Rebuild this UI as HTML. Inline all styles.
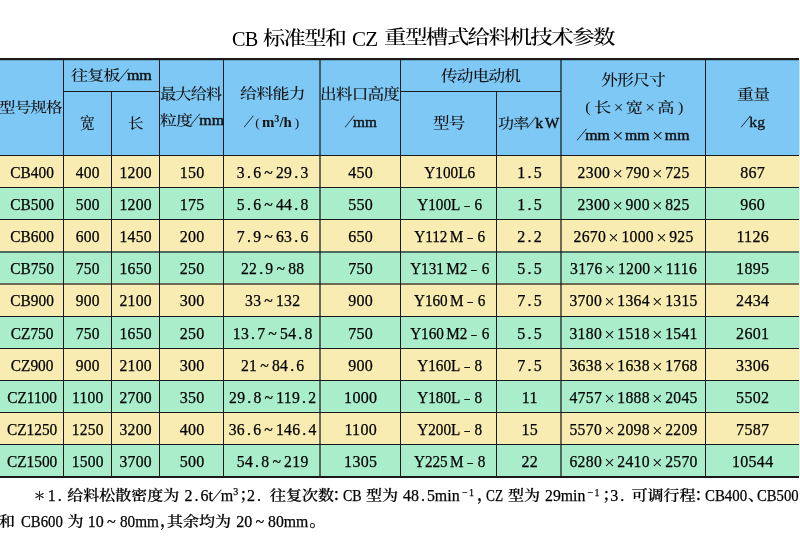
<!DOCTYPE html>
<html lang="zh"><head><meta charset="utf-8"><title>CB 标准型和 CZ 重型槽式给料机技术参数</title>
<style>
*{margin:0;padding:0;box-sizing:border-box}
html,body{width:800px;height:546px;background:#fff;overflow:hidden}
body{position:relative;font-family:"Liberation Serif","Noto Serif CJK SC",serif;color:#111}
.bg,.ln,.td,.th,.seg{position:absolute}
.ln{background:#1a1a1a}
.td{height:32px;line-height:18px;padding-top:9px;text-align:center;font-size:16px;white-space:nowrap;letter-spacing:0.3px;color:#000;-webkit-text-stroke:.25px #000}
.c0{letter-spacing:0}
.th{line-height:20px;font-size:16px;font-weight:500;white-space:nowrap;transform-origin:0 0;letter-spacing:-.8px}
.th b{font-size:15px;font-weight:400;letter-spacing:0;-webkit-text-stroke:.45px #111}
.th b.B{font-size:14.5px;font-weight:700;-webkit-text-stroke:0}
.th .xs{font-size:16px;top:1.5px;margin:0 3px}
.th b.n{font-weight:400;font-size:15px;-webkit-text-stroke:.3px #111}
.pp{font-size:13px;font-weight:400;margin:0 3px}
.pq{font-size:15px;font-weight:400;margin:0 4px}
.th .kw{letter-spacing:2px}
.th sup{font-size:10px;vertical-align:5px;line-height:0}
.dp{margin:0 2px}
.tl{margin:0 3px}
.ds{display:inline-block;transform:scaleX(.7);margin:0 4px 0 3px}
.mm{margin-left:2.5px}
.x{margin:0 2.3px;font-size:19px;line-height:0;position:relative;top:1.8px;font-weight:400;-webkit-text-stroke:0}
.sl{display:inline-block;transform:skewX(-24deg);margin:0 2px 0 1px;font-size:17px}
.pl,.pr{font-feature-settings:"palt"}
.seg{white-space:nowrap}
.tt{font-size:21px;line-height:28px;font-weight:400;color:#000}
.tc{font-weight:500}
.tc{letter-spacing:-1.5px}
.fk{display:inline-block;transform:scaleY(.86);transform-origin:50% 15px}
.k{display:inline-block;transform:scaleY(.88);transform-origin:50% 15px}
.fn{font-size:16px;line-height:20px;font-weight:500;color:#000;-webkit-text-stroke:.25px #000}
.fn sup{font-size:10px;vertical-align:6px;line-height:0}
.fa{font-size:11.5px}
.sp{font-size:10px;position:relative;top:-5.5px}
</style></head><body>
<div class="bg" style="left:0;top:60px;width:800px;height:95px;background:#7ec8f6"></div><div class="bg" style="left:0;top:155px;width:800px;height:32px;background:#f8ecb2"></div><div class="bg" style="left:0;top:187px;width:800px;height:32px;background:#a9edcb"></div><div class="bg" style="left:0;top:219px;width:800px;height:32px;background:#f8ecb2"></div><div class="bg" style="left:0;top:251px;width:800px;height:32px;background:#a9edcb"></div><div class="bg" style="left:0;top:283px;width:800px;height:33px;background:#f8ecb2"></div><div class="bg" style="left:0;top:316px;width:800px;height:32px;background:#a9edcb"></div><div class="bg" style="left:0;top:348px;width:800px;height:32px;background:#f8ecb2"></div><div class="bg" style="left:0;top:380px;width:800px;height:32px;background:#a9edcb"></div><div class="bg" style="left:0;top:412px;width:800px;height:32px;background:#f8ecb2"></div><div class="bg" style="left:0;top:444px;width:800px;height:32px;background:#a9edcb"></div><div class="ln" style="left:0;top:58px;width:799px;height:2px"></div><div class="ln" style="left:0;top:476px;width:799px;height:2px"></div><div class="ln" style="left:0;top:155px;width:799px;height:1px;background:#1a1a1a"></div><div class="ln" style="left:0;top:187px;width:799px;height:1px;background:#1a1a1a"></div><div class="ln" style="left:0;top:219px;width:799px;height:1px;background:#1a1a1a"></div><div class="ln" style="left:0;top:251px;width:799px;height:2px;background:rgba(20,20,20,0.6)"></div><div class="ln" style="left:0;top:283px;width:799px;height:2px;background:rgba(20,20,20,0.6)"></div><div class="ln" style="left:0;top:316px;width:799px;height:1px;background:#1a1a1a"></div><div class="ln" style="left:0;top:348px;width:799px;height:1px;background:#1a1a1a"></div><div class="ln" style="left:0;top:380px;width:799px;height:1px;background:#1a1a1a"></div><div class="ln" style="left:0;top:412px;width:799px;height:1px;background:#1a1a1a"></div><div class="ln" style="left:0;top:444px;width:799px;height:1px;background:#1a1a1a"></div><div class="ln" style="left:0;top:60px;width:799px;height:1px;background:rgba(0,0,0,.18)"></div><div class="ln" style="left:63px;top:91px;width:97px;height:1px"></div><div class="ln" style="left:400px;top:91px;width:161px;height:1px"></div><div class="bg" style="left:799px;top:58px;width:1px;height:420px;background:rgba(255,255,255,.55)"></div><div class="ln" style="left:63px;top:60px;width:1px;height:416px;background:#1a1a1a"></div><div class="ln" style="left:111px;top:92px;width:1px;height:384px;background:#1a1a1a"></div><div class="ln" style="left:159px;top:60px;width:1px;height:416px;background:#1a1a1a"></div><div class="ln" style="left:223px;top:60px;width:1px;height:416px;background:#1a1a1a"></div><div class="ln" style="left:319px;top:60px;width:2px;height:416px;background:rgba(20,20,20,0.6)"></div><div class="ln" style="left:400px;top:60px;width:1px;height:416px;background:#1a1a1a"></div><div class="ln" style="left:496px;top:92px;width:1px;height:384px;background:#1a1a1a"></div><div class="ln" style="left:560px;top:60px;width:2px;height:416px;background:rgba(20,20,20,0.6)"></div><div class="ln" style="left:705px;top:60px;width:1px;height:416px;background:#1a1a1a"></div><div class="td c0" style="left:0px;top:155px;width:63px;transform:translateX(0.6px) scaleX(0.96)">CB400</div><div class="td" style="left:63px;top:155px;width:48px;transform:translateX(0.8px) scaleX(0.97)">400</div><div class="td" style="left:111px;top:155px;width:48px;transform:translateX(0.7px) scaleX(0.98)">1200</div><div class="td" style="left:159px;top:155px;width:65px;transform:translateX(0.6px) scaleX(1)">150</div><div class="td" style="left:224px;top:155px;width:96px;transform:translateX(0.7px) scaleX(0.98)">3<span class="dp">.</span>6<span class="tl">~</span>29<span class="dp">.</span>3</div><div class="td" style="left:320px;top:155px;width:80px;transform:translateX(0.7px) scaleX(1)">450</div><div class="td c0" style="left:400px;top:155px;width:97px;transform:translateX(1.2px) scaleX(0.95)">Y100L6</div><div class="td" style="left:497px;top:155px;width:64px;transform:translateX(0.7px) scaleX(1)">1<span class="dp">.</span>5</div><div class="td" style="left:561px;top:155px;width:144px;transform:translateX(0.6px) scaleX(0.98)">2300<span class="x">×</span>790<span class="x">×</span>725</div><div class="td" style="left:705px;top:155px;width:94px;transform:translateX(0.7px) scaleX(1)">867</div><div class="td c0" style="left:0px;top:187px;width:63px;transform:translateX(0.6px) scaleX(0.96)">CB500</div><div class="td" style="left:63px;top:187px;width:48px;transform:translateX(0.8px) scaleX(0.97)">500</div><div class="td" style="left:111px;top:187px;width:48px;transform:translateX(0.7px) scaleX(0.98)">1200</div><div class="td" style="left:159px;top:187px;width:65px;transform:translateX(0.6px) scaleX(1)">175</div><div class="td" style="left:224px;top:187px;width:96px;transform:translateX(0.7px) scaleX(0.98)">5<span class="dp">.</span>6<span class="tl">~</span>44<span class="dp">.</span>8</div><div class="td" style="left:320px;top:187px;width:80px;transform:translateX(0.7px) scaleX(1)">550</div><div class="td c0" style="left:400px;top:187px;width:97px;transform:translateX(1.2px) scaleX(0.95)">Y100L<span class="ds">&#8211;</span>6</div><div class="td" style="left:497px;top:187px;width:64px;transform:translateX(0.7px) scaleX(1)">1<span class="dp">.</span>5</div><div class="td" style="left:561px;top:187px;width:144px;transform:translateX(0.6px) scaleX(0.98)">2300<span class="x">×</span>900<span class="x">×</span>825</div><div class="td" style="left:705px;top:187px;width:94px;transform:translateX(0.7px) scaleX(1)">960</div><div class="td c0" style="left:0px;top:219px;width:63px;transform:translateX(0.6px) scaleX(0.96)">CB600</div><div class="td" style="left:63px;top:219px;width:48px;transform:translateX(0.8px) scaleX(0.97)">600</div><div class="td" style="left:111px;top:219px;width:48px;transform:translateX(0.7px) scaleX(0.98)">1450</div><div class="td" style="left:159px;top:219px;width:65px;transform:translateX(0.6px) scaleX(1)">200</div><div class="td" style="left:224px;top:219px;width:96px;transform:translateX(0.7px) scaleX(0.98)">7<span class="dp">.</span>9<span class="tl">~</span>63<span class="dp">.</span>6</div><div class="td" style="left:320px;top:219px;width:80px;transform:translateX(0.7px) scaleX(1)">650</div><div class="td c0" style="left:400px;top:219px;width:97px;transform:translateX(1.2px) scaleX(0.95)">Y112<span class="mm">M</span><span class="ds">&#8211;</span>6</div><div class="td" style="left:497px;top:219px;width:64px;transform:translateX(0.7px) scaleX(1)">2<span class="dp">.</span>2</div><div class="td" style="left:561px;top:219px;width:144px;transform:translateX(0.6px) scaleX(0.98)">2670<span class="x">×</span>1000<span class="x">×</span>925</div><div class="td" style="left:705px;top:219px;width:94px;transform:translateX(0.7px) scaleX(1)">1126</div><div class="td c0" style="left:0px;top:251px;width:63px;transform:translateX(0.6px) scaleX(0.96)">CB750</div><div class="td" style="left:63px;top:251px;width:48px;transform:translateX(0.8px) scaleX(0.97)">750</div><div class="td" style="left:111px;top:251px;width:48px;transform:translateX(0.7px) scaleX(0.98)">1650</div><div class="td" style="left:159px;top:251px;width:65px;transform:translateX(0.6px) scaleX(1)">250</div><div class="td" style="left:224px;top:251px;width:96px;transform:translateX(0.7px) scaleX(0.98)">22<span class="dp">.</span>9<span class="tl">~</span>88</div><div class="td" style="left:320px;top:251px;width:80px;transform:translateX(0.7px) scaleX(1)">750</div><div class="td c0" style="left:400px;top:251px;width:97px;transform:translateX(1.2px) scaleX(0.95)">Y131<span class="mm">M</span>2<span class="ds">&#8211;</span>6</div><div class="td" style="left:497px;top:251px;width:64px;transform:translateX(0.7px) scaleX(1)">5<span class="dp">.</span>5</div><div class="td" style="left:561px;top:251px;width:144px;transform:translateX(0.6px) scaleX(0.98)">3176<span class="x">×</span>1200<span class="x">×</span>1116</div><div class="td" style="left:705px;top:251px;width:94px;transform:translateX(0.7px) scaleX(1)">1895</div><div class="td c0" style="left:0px;top:283px;width:63px;transform:translateX(0.6px) scaleX(0.96)">CB900</div><div class="td" style="left:63px;top:283px;width:48px;transform:translateX(0.8px) scaleX(0.97)">900</div><div class="td" style="left:111px;top:283px;width:48px;transform:translateX(0.7px) scaleX(0.98)">2100</div><div class="td" style="left:159px;top:283px;width:65px;transform:translateX(0.6px) scaleX(1)">300</div><div class="td" style="left:224px;top:283px;width:96px;transform:translateX(0.7px) scaleX(0.98)">33<span class="tl">~</span>132</div><div class="td" style="left:320px;top:283px;width:80px;transform:translateX(0.7px) scaleX(1)">900</div><div class="td c0" style="left:400px;top:283px;width:97px;transform:translateX(1.2px) scaleX(0.95)">Y160<span class="mm">M</span><span class="ds">&#8211;</span>6</div><div class="td" style="left:497px;top:283px;width:64px;transform:translateX(0.7px) scaleX(1)">7<span class="dp">.</span>5</div><div class="td" style="left:561px;top:283px;width:144px;transform:translateX(0.6px) scaleX(0.98)">3700<span class="x">×</span>1364<span class="x">×</span>1315</div><div class="td" style="left:705px;top:283px;width:94px;transform:translateX(0.7px) scaleX(1)">2434</div><div class="td c0" style="left:0px;top:316px;width:63px;transform:translateX(0.6px) scaleX(0.96)">CZ750</div><div class="td" style="left:63px;top:316px;width:48px;transform:translateX(0.8px) scaleX(0.97)">750</div><div class="td" style="left:111px;top:316px;width:48px;transform:translateX(0.7px) scaleX(0.98)">1650</div><div class="td" style="left:159px;top:316px;width:65px;transform:translateX(0.6px) scaleX(1)">250</div><div class="td" style="left:224px;top:316px;width:96px;transform:translateX(0.7px) scaleX(0.98)">13<span class="dp">.</span>7<span class="tl">~</span>54<span class="dp">.</span>8</div><div class="td" style="left:320px;top:316px;width:80px;transform:translateX(0.7px) scaleX(1)">750</div><div class="td c0" style="left:400px;top:316px;width:97px;transform:translateX(1.2px) scaleX(0.95)">Y160<span class="mm">M</span>2<span class="ds">&#8211;</span>6</div><div class="td" style="left:497px;top:316px;width:64px;transform:translateX(0.7px) scaleX(1)">5<span class="dp">.</span>5</div><div class="td" style="left:561px;top:316px;width:144px;transform:translateX(0.6px) scaleX(0.98)">3180<span class="x">×</span>1518<span class="x">×</span>1541</div><div class="td" style="left:705px;top:316px;width:94px;transform:translateX(0.7px) scaleX(1)">2601</div><div class="td c0" style="left:0px;top:348px;width:63px;transform:translateX(0.6px) scaleX(0.96)">CZ900</div><div class="td" style="left:63px;top:348px;width:48px;transform:translateX(0.8px) scaleX(0.97)">900</div><div class="td" style="left:111px;top:348px;width:48px;transform:translateX(0.7px) scaleX(0.98)">2100</div><div class="td" style="left:159px;top:348px;width:65px;transform:translateX(0.6px) scaleX(1)">300</div><div class="td" style="left:224px;top:348px;width:96px;transform:translateX(0.7px) scaleX(0.98)">21<span class="tl">~</span>84<span class="dp">.</span>6</div><div class="td" style="left:320px;top:348px;width:80px;transform:translateX(0.7px) scaleX(1)">900</div><div class="td c0" style="left:400px;top:348px;width:97px;transform:translateX(1.2px) scaleX(0.95)">Y160L<span class="ds">&#8211;</span>8</div><div class="td" style="left:497px;top:348px;width:64px;transform:translateX(0.7px) scaleX(1)">7<span class="dp">.</span>5</div><div class="td" style="left:561px;top:348px;width:144px;transform:translateX(0.6px) scaleX(0.98)">3638<span class="x">×</span>1638<span class="x">×</span>1768</div><div class="td" style="left:705px;top:348px;width:94px;transform:translateX(0.7px) scaleX(1)">3306</div><div class="td c0" style="left:0px;top:380px;width:63px;transform:translateX(0.6px) scaleX(0.96)">CZ1100</div><div class="td" style="left:63px;top:380px;width:48px;transform:translateX(0.8px) scaleX(0.97)">1100</div><div class="td" style="left:111px;top:380px;width:48px;transform:translateX(0.7px) scaleX(0.98)">2700</div><div class="td" style="left:159px;top:380px;width:65px;transform:translateX(0.6px) scaleX(1)">350</div><div class="td" style="left:224px;top:380px;width:96px;transform:translateX(0.7px) scaleX(0.98)">29<span class="dp">.</span>8<span class="tl">~</span>119<span class="dp">.</span>2</div><div class="td" style="left:320px;top:380px;width:80px;transform:translateX(0.7px) scaleX(1)">1000</div><div class="td c0" style="left:400px;top:380px;width:97px;transform:translateX(1.2px) scaleX(0.95)">Y180L<span class="ds">&#8211;</span>8</div><div class="td" style="left:497px;top:380px;width:64px;transform:translateX(0.7px) scaleX(1)">11</div><div class="td" style="left:561px;top:380px;width:144px;transform:translateX(0.6px) scaleX(0.98)">4757<span class="x">×</span>1888<span class="x">×</span>2045</div><div class="td" style="left:705px;top:380px;width:94px;transform:translateX(0.7px) scaleX(1)">5502</div><div class="td c0" style="left:0px;top:412px;width:63px;transform:translateX(0.6px) scaleX(0.96)">CZ1250</div><div class="td" style="left:63px;top:412px;width:48px;transform:translateX(0.8px) scaleX(0.97)">1250</div><div class="td" style="left:111px;top:412px;width:48px;transform:translateX(0.7px) scaleX(0.98)">3200</div><div class="td" style="left:159px;top:412px;width:65px;transform:translateX(0.6px) scaleX(1)">400</div><div class="td" style="left:224px;top:412px;width:96px;transform:translateX(0.7px) scaleX(0.98)">36<span class="dp">.</span>6<span class="tl">~</span>146<span class="dp">.</span>4</div><div class="td" style="left:320px;top:412px;width:80px;transform:translateX(0.7px) scaleX(1)">1100</div><div class="td c0" style="left:400px;top:412px;width:97px;transform:translateX(1.2px) scaleX(0.95)">Y200L<span class="ds">&#8211;</span>8</div><div class="td" style="left:497px;top:412px;width:64px;transform:translateX(0.7px) scaleX(1)">15</div><div class="td" style="left:561px;top:412px;width:144px;transform:translateX(0.6px) scaleX(0.98)">5570<span class="x">×</span>2098<span class="x">×</span>2209</div><div class="td" style="left:705px;top:412px;width:94px;transform:translateX(0.7px) scaleX(1)">7587</div><div class="td c0" style="left:0px;top:444px;width:63px;transform:translateX(0.6px) scaleX(0.96)">CZ1500</div><div class="td" style="left:63px;top:444px;width:48px;transform:translateX(0.8px) scaleX(0.97)">1500</div><div class="td" style="left:111px;top:444px;width:48px;transform:translateX(0.7px) scaleX(0.98)">3700</div><div class="td" style="left:159px;top:444px;width:65px;transform:translateX(0.6px) scaleX(1)">500</div><div class="td" style="left:224px;top:444px;width:96px;transform:translateX(0.7px) scaleX(0.98)">54<span class="dp">.</span>8<span class="tl">~</span>219</div><div class="td" style="left:320px;top:444px;width:80px;transform:translateX(0.7px) scaleX(1)">1305</div><div class="td c0" style="left:400px;top:444px;width:97px;transform:translateX(1.2px) scaleX(0.95)">Y225<span class="mm">M</span><span class="ds">&#8211;</span>8</div><div class="td" style="left:497px;top:444px;width:64px;transform:translateX(0.7px) scaleX(1)">22</div><div class="td" style="left:561px;top:444px;width:144px;transform:translateX(0.6px) scaleX(0.98)">6280<span class="x">×</span>2410<span class="x">×</span>2570</div><div class="td" style="left:705px;top:444px;width:94px;transform:translateX(0.7px) scaleX(1)">10544</div><div class="seg th" style="left:232.23px;top:24.65px;transform:scale(0.968,1.021)"><span class="tt">CB</span></div><div class="seg th" style="left:262.84px;top:24.91px;transform:scale(1.056,0.929)"><span class="tt tc">标准型和</span></div><div class="seg th" style="left:352.40px;top:24.85px;transform:scale(1.004,1.021)"><span class="tt">CZ</span></div><div class="seg th" style="left:383.93px;top:24.79px;transform:scale(1.072,0.905)"><span class="tt tc">重型槽式给料机技术参数</span></div><div class="seg th" style="left:-0.63px;top:98.83px;transform:scale(1.028,0.875)">型号规格</div><div class="seg th" style="left:71.14px;top:64.55px;transform:scale(1.064,1.000)"><span class="k">往复板</span><span class="sl">/</span><b>mm</b></div><div class="seg th" style="left:80.33px;top:114.32px;transform:scale(0.925,0.980)">宽</div><div class="seg th" style="left:128.03px;top:115.06px;transform:scale(0.971,0.844)">长</div><div class="seg th" style="left:159.99px;top:85.71px;transform:scale(1.008,0.894)">最大给料</div><div class="seg th" style="left:159.95px;top:110.00px;transform:scale(1.054,1.000)"><span class="k">粒度</span><span class="sl">/</span><b>mm</b></div><div class="seg th" style="left:240.03px;top:85.12px;transform:scale(1.066,0.875)">给料能力</div><div class="seg th" style="left:245.12px;top:112.05px;transform:scale(1.025,1.000)"><span class="sl">/</span><span class="pp">(</span><b class="B">m<sup>3</sup>/h</b><span class="pp">)</span></div><div class="seg th" style="left:320.42px;top:85.09px;transform:scale(1.042,0.906)">出料口高度</div><div class="seg th" style="left:345.77px;top:111.90px;transform:scale(1.018,1.000)"><span class="sl">/</span><b>mm</b></div><div class="seg th" style="left:440.86px;top:66.70px;transform:scale(1.041,0.900)">传动电动机</div><div class="seg th" style="left:432.72px;top:113.92px;transform:scale(1.034,0.940)">型号</div><div class="seg th" style="left:497.90px;top:113.00px;transform:scale(1.003,1.000)"><span class="k">功率</span><span class="sl">/</span><b class="kw">kW</b></div><div class="seg th" style="left:600.69px;top:72.36px;transform:scale(1.055,0.891)">外形尺寸</div><div class="seg th" style="left:580.63px;top:96.50px;transform:scale(1.074,1.000)"><span class="pq">(</span><span class="k">长</span><span class="x xs">×</span><span class="k">宽</span><span class="x xs">×</span><span class="k">高</span><span class="pq">)</span></div><div class="seg th" style="left:578.05px;top:125.15px;transform:scale(1.051,1.000)"><span class="sl">/</span><b>mm</b><span class="x">×</span><b>mm</b><span class="x">×</span><b>mm</b></div><div class="seg th" style="left:736.54px;top:86.88px;transform:scale(1.062,0.825)">重量</div><div class="seg th" style="left:741.95px;top:111.75px;transform:scale(1.048,1.000)"><span class="sl">/</span><b class="n">kg</b></div><div class="seg fn" style="left:33.8px;top:485.3px"><span class="fa">＊</span></div><div class="seg fn" style="left:47.8px;top:486.3px">1<span class="dp">.</span></div><div class="seg fn" style="left:67.2px;top:485.3px"><span class="fk">给料松散密度为</span></div><div class="seg fn" style="left:184.6px;top:486.3px">2<span class="dp">.</span>6t<span class="sl">/</span>m<sup>3</sup></div><div class="seg fn" style="left:239.4px;top:485.3px">；</div><div class="seg fn" style="left:247.0px;top:486.3px">2<span class="dp">.</span></div><div class="seg fn" style="left:269.9px;top:485.3px"><span class="fk">往复次数</span></div><div class="seg fn" style="left:332.5px;top:485.3px">：</div><div class="seg fn" style="left:343.4px;top:486.3px;transform:scaleX(0.876);transform-origin:0 0">CB</div><div class="seg fn" style="left:366.0px;top:485.3px"><span class="fk">型为</span></div><div class="seg fn" style="left:403.0px;top:486.3px;transform:scaleX(0.995);transform-origin:0 0">48<span class="dp">.</span>5min</div><div class="seg fn" style="left:462.0px;top:486.3px"><span class="sp">&#8722;</span></div><div class="seg fn" style="left:469.0px;top:486.3px"><span class="sp">1</span></div><div class="seg fn" style="left:476.9px;top:485.3px">，</div><div class="seg fn" style="left:486.2px;top:486.3px;transform:scaleX(0.832);transform-origin:0 0">CZ</div><div class="seg fn" style="left:508.0px;top:485.3px"><span class="fk">型为</span></div><div class="seg fn" style="left:545.0px;top:486.3px;transform:scaleX(0.985);transform-origin:0 0">29min</div><div class="seg fn" style="left:587.5px;top:486.3px"><span class="sp">&#8722;</span></div><div class="seg fn" style="left:594.6px;top:486.3px"><span class="sp">1</span></div><div class="seg fn" style="left:602.4px;top:485.3px">；</div><div class="seg fn" style="left:610.2px;top:486.3px">3<span class="dp">.</span></div><div class="seg fn" style="left:631.5px;top:485.3px"><span class="fk">可调行程</span></div><div class="seg fn" style="left:694.6px;top:485.3px">：</div><div class="seg fn" style="left:705.1px;top:486.3px;transform:scaleX(0.931);transform-origin:0 0">CB400</div><div class="seg fn" style="left:748.1px;top:485.3px">、</div><div class="seg fn" style="left:757.4px;top:486.3px;transform:scaleX(0.918);transform-origin:0 0">CB500</div><div class="seg fn" style="left:-1.0px;top:510.8px"><span class="fk">和</span></div><div class="seg fn" style="left:20.8px;top:511.8px;transform:scaleX(0.924);transform-origin:0 0">CB600</div><div class="seg fn" style="left:67.6px;top:510.8px"><span class="fk">为</span></div><div class="seg fn" style="left:87.8px;top:511.8px">10</div><div class="seg fn" style="left:106.9px;top:511.8px">~</div><div class="seg fn" style="left:120.0px;top:511.8px;transform:scaleX(0.952);transform-origin:0 0">80mm</div><div class="seg fn" style="left:160.0px;top:510.8px">，</div><div class="seg fn" style="left:167.0px;top:510.8px"><span class="fk">其余均为</span></div><div class="seg fn" style="left:236.2px;top:511.8px">20</div><div class="seg fn" style="left:255.6px;top:511.8px">~</div><div class="seg fn" style="left:268.1px;top:511.8px;transform:scaleX(0.985);transform-origin:0 0">80mm</div><div class="seg fn" style="left:309.4px;top:510.8px">。</div>
</body></html>
